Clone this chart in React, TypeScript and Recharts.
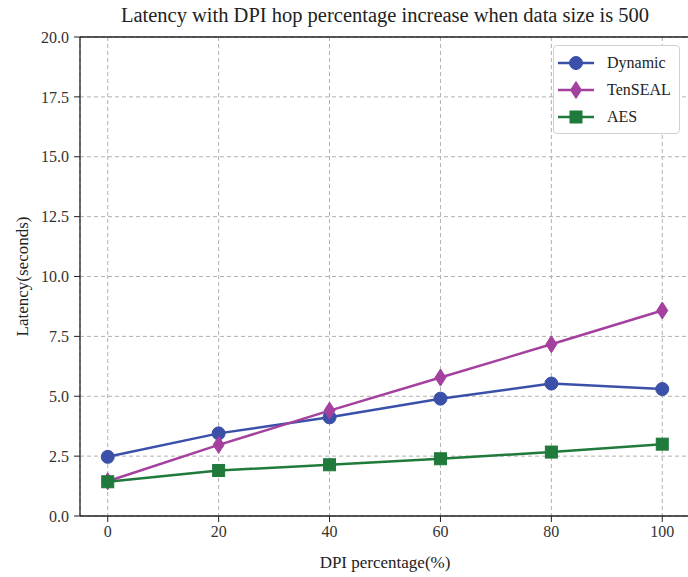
import React from 'react';
import { LineChart, Line, XAxis, YAxis, CartesianGrid, ReferenceLine, Label } from 'recharts';

const dpiPercent = [0, 20, 40, 60, 80, 100];
const dynamicLatency = [2.47, 3.45, 4.12, 4.9, 5.53, 5.3];
const tensealLatency = [1.45, 2.97, 4.4, 5.78, 7.17, 8.58];
const aesLatency = [1.43, 1.9, 2.14, 2.39, 2.67, 3.0];
const xTicks = [0, 20, 40, 60, 80, 100];
const yTicks = [0, 2.5, 5, 7.5, 10, 12.5, 15, 17.5, 20];

const data = dpiPercent.map((p, i) => ({
    dpi: p,
    dynamic: dynamicLatency[i],
    tenseal: tensealLatency[i],
    aes: aesLatency[i],
}));

const FONT = '"Liberation Serif", "DejaVu Serif", serif';
const BLUE = '#3b50a8';
const PURPLE = '#a4409e';
const GREEN = '#1f7a3b';

type Marker = 'circle' | 'diamond' | 'square';

const drawMarker = (kind: Marker, cx: number, cy: number, color: string, key?: string) => {
    if (kind === 'circle') return <circle key={key} cx={cx} cy={cy} r={6.5} fill={color} stroke={color} />;
    if (kind === 'diamond')
        return (
            <polygon
                key={key}
                points={`${cx},${cy - 8.5} ${cx + 5.5},${cy} ${cx},${cy + 8.5} ${cx - 5.5},${cy}`}
                fill={color}
                stroke={color}
            />
        );
    return <rect key={key} x={cx - 6} y={cy - 6} width={12} height={12} fill={color} stroke={color} />;
};

const series: { key: string; name: string; color: string; marker: Marker }[] = [
    { key: 'dynamic', name: 'Dynamic', color: BLUE, marker: 'circle' },
    { key: 'tenseal', name: 'TenSEAL', color: PURPLE, marker: 'diamond' },
    { key: 'aes', name: 'AES', color: GREEN, marker: 'square' },
];

// legend drawn as an overlay so it doesn't shrink the plot area
const LegendBox = () => (
    <div
        style={{
            position: 'absolute',
            left: 553,
            top: 45,
            width: 127,
            boxSizing: 'border-box',
            background: '#fff',
            border: '1px solid #d0d0d0',
            borderRadius: 4,
            padding: '3px 6px 3px 3px',
            fontFamily: FONT,
            fontSize: 16,
            color: '#222',
        }}
    >
        {series.map((s) => (
            <div key={s.key} style={{ display: 'flex', alignItems: 'center', height: 27 }}>
                <svg width={38} height={20} style={{ marginRight: 12 }}>
                    <line x1={1} y1={10} x2={37} y2={10} stroke={s.color} strokeWidth={2.5} />
                    {drawMarker(s.marker, 19, 10, s.color)}
                </svg>
                <span>{s.name}</span>
            </div>
        ))}
    </div>
);

export default function App() {
    const tickStyle = { fill: '#333', fontSize: 16, fontFamily: FONT };
    return (
        <div style={{ position: 'absolute', left: 0, top: 0, width: 688, height: 577, overflow: 'hidden', background: '#fff' }}>
            <div
                style={{
                    position: 'absolute',
                    left: 80,
                    top: 4,
                    width: 610,
                    textAlign: 'center',
                    fontFamily: FONT,
                    fontSize: 20.5,
                    color: '#222',
                }}
            >
                Latency with DPI hop percentage increase when data size is 500
            </div>
            <LineChart width={700} height={577} data={data} margin={{ top: 37, right: 10, left: 0, bottom: 5 }}>
                <CartesianGrid strokeDasharray="4 3" stroke="#b0b0b0" />
                <XAxis
                    dataKey="dpi"
                    type="number"
                    domain={[-5, 105]}
                    ticks={xTicks}
                    height={56}
                    tick={tickStyle}
                    tickSize={6}
                    tickMargin={4}
                    stroke="#222"
                    tickLine={{ stroke: '#222' }}
                    axisLine={{ stroke: '#222', strokeWidth: 1.3 }}
                >
                    <Label value="DPI percentage(%)" position="insideBottom" offset={4} style={{ fill: '#222', fontSize: 17, fontFamily: FONT }} />
                </XAxis>
                <YAxis
                    type="number"
                    domain={[0, 20]}
                    ticks={yTicks}
                    width={80}
                    tick={tickStyle}
                    tickSize={6}
                    tickMargin={5}
                    tickFormatter={(v) => Number(v).toFixed(1)}
                    stroke="#222"
                    tickLine={{ stroke: '#222' }}
                    axisLine={{ stroke: '#222', strokeWidth: 1.3 }}
                >
                    <Label
                        value="Latency(seconds)"
                        angle={-90}
                        position="insideLeft"
                        offset={22}
                        style={{ textAnchor: 'middle', fill: '#222', fontSize: 17, fontFamily: FONT }}
                    />
                </YAxis>
                <ReferenceLine y={20} stroke="#222" strokeWidth={1.3} />
                <ReferenceLine x={105} stroke="#222" strokeWidth={1.3} />
                {series.map((s) => (
                    <Line
                        key={s.key}
                        dataKey={s.key}
                        name={s.name}
                        type="linear"
                        stroke={s.color}
                        strokeWidth={2.5}
                        isAnimationActive={false}
                        dot={(p: any) => drawMarker(s.marker, p.cx, p.cy, s.color, `${s.key}-${p.index}`)}
                        activeDot={false}
                    />
                ))}
            </LineChart>
            <LegendBox />
        </div>
    );
}
